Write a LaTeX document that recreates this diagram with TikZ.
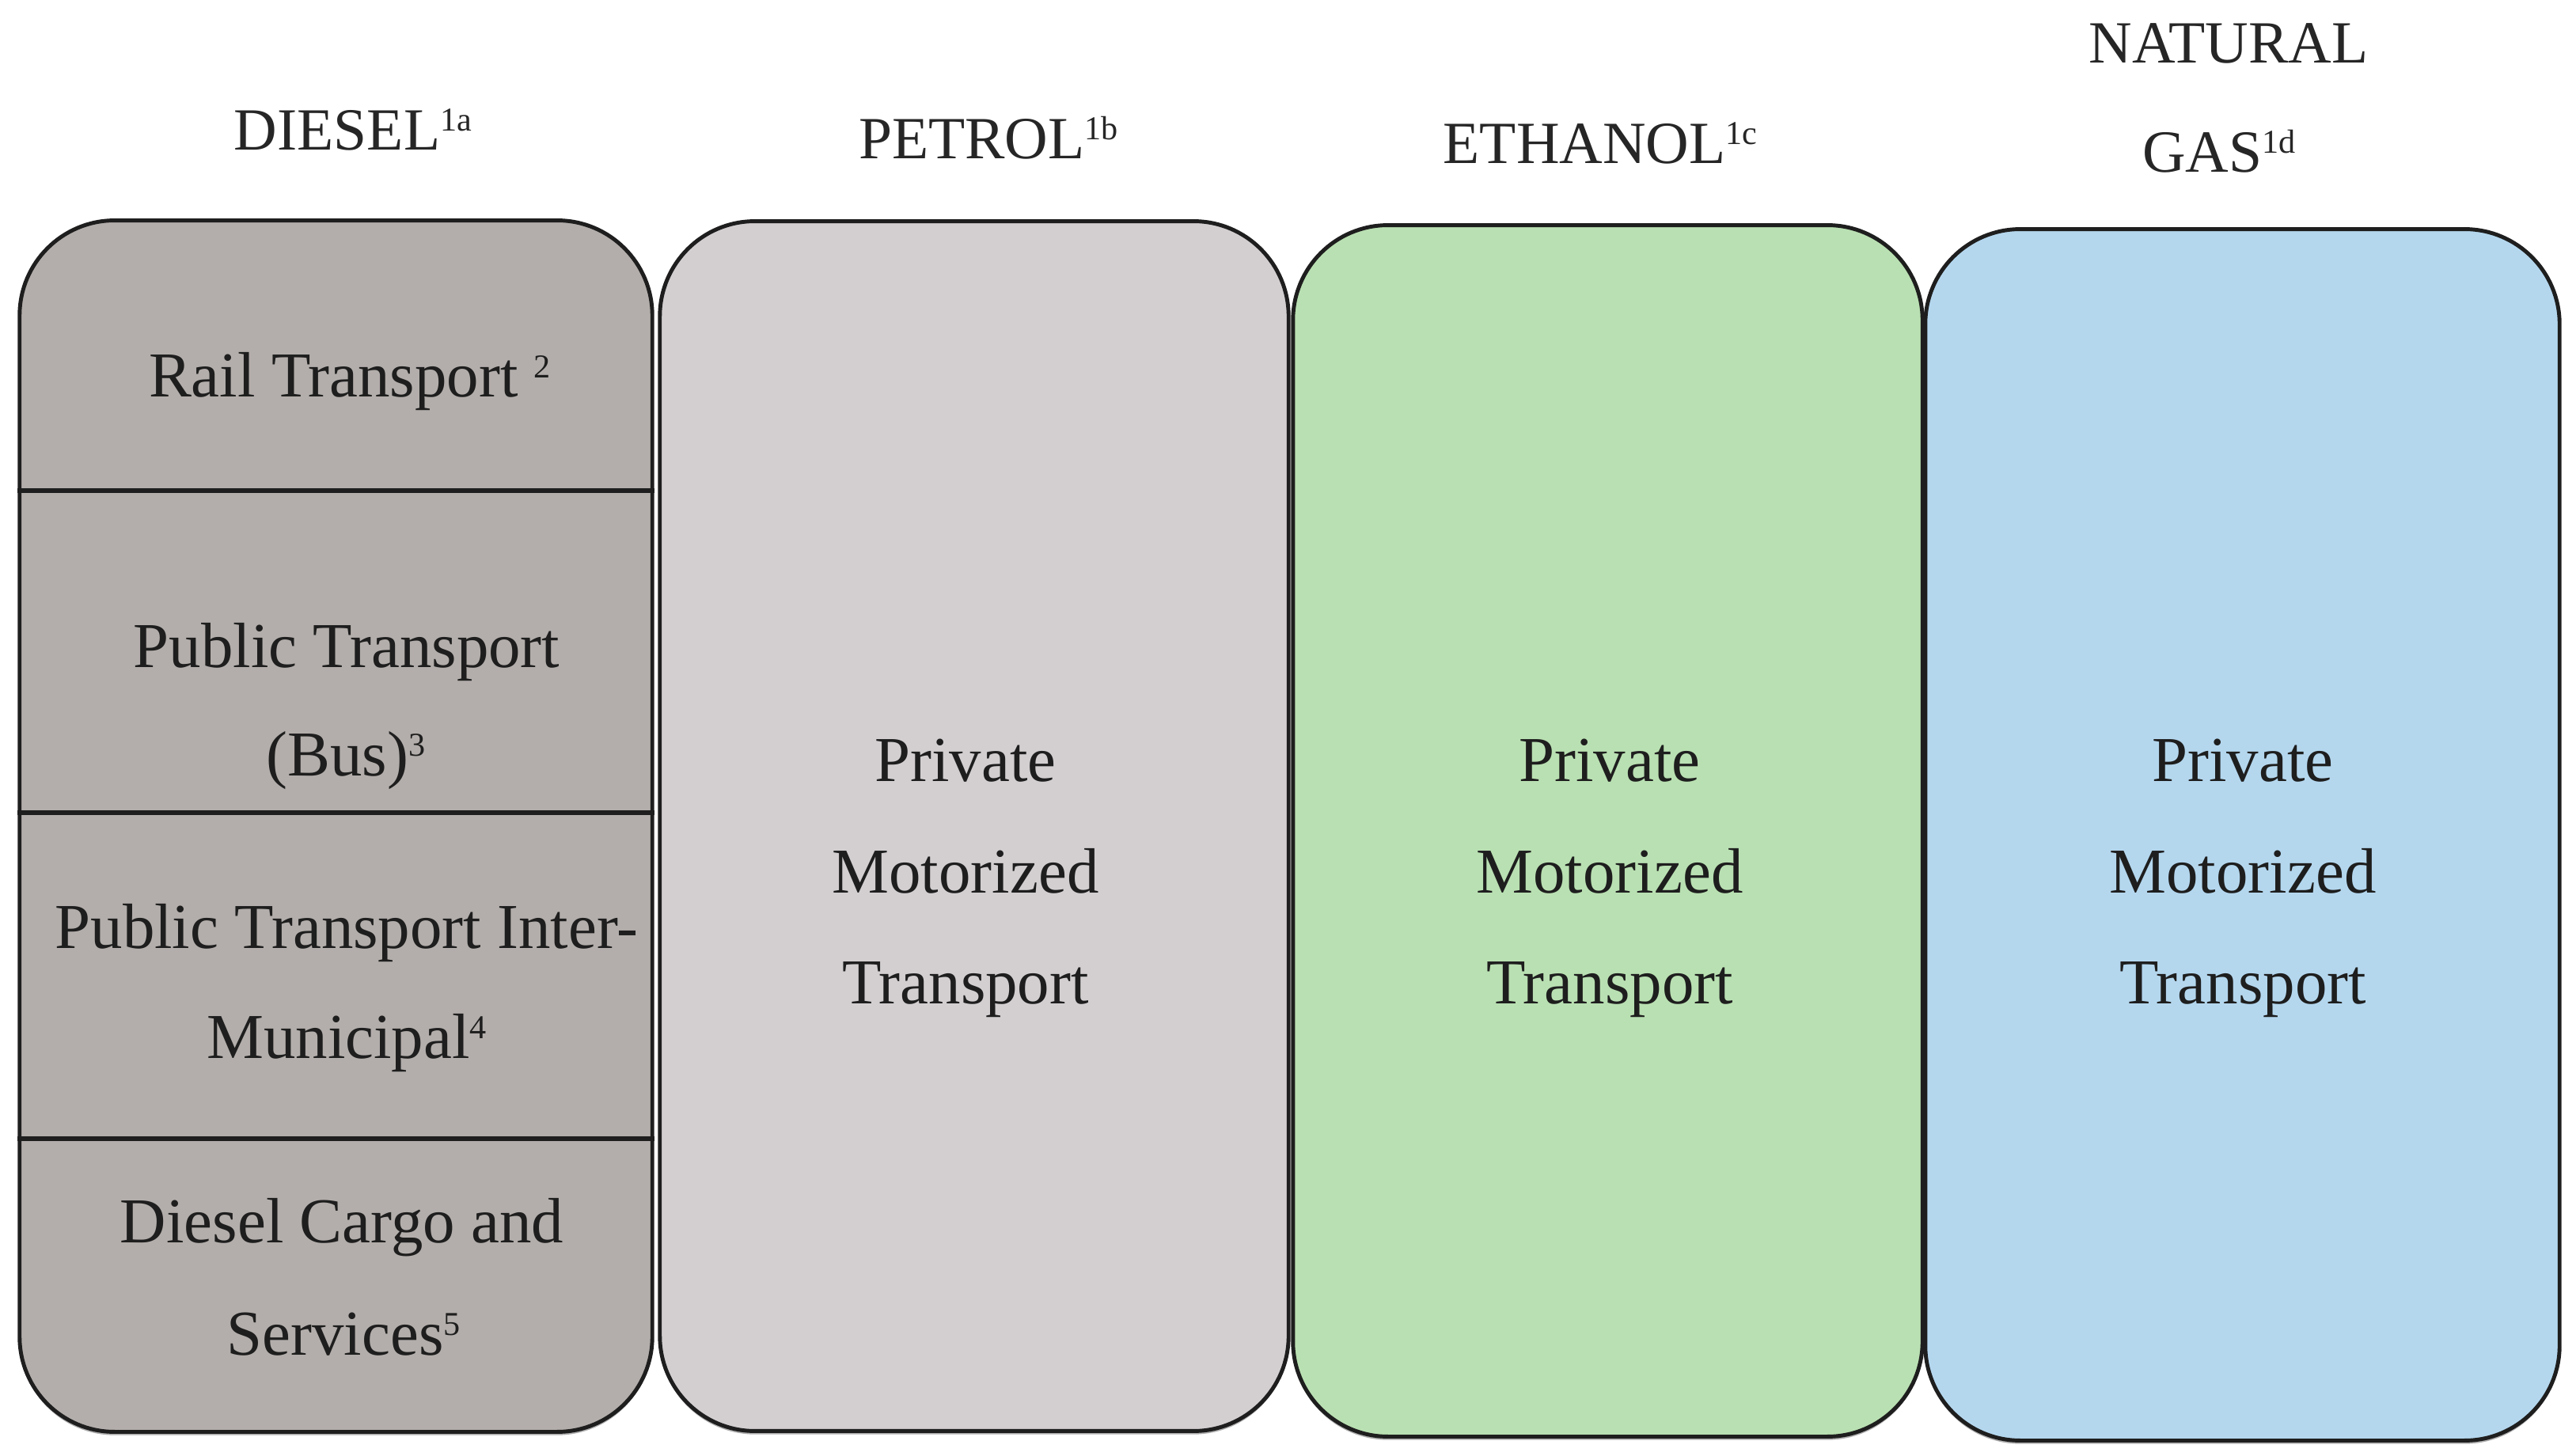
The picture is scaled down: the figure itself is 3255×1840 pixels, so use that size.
\documentclass[tikz,border=0pt]{standalone}
\usepackage{fontspec}
\setmainfont{Liberation Serif}
\usetikzlibrary{shadows}
\definecolor{dieselc}{RGB}{179,174,171}
\definecolor{petrolc}{RGB}{211,207,208}
\definecolor{ethanolc}{RGB}{185,224,178}
\definecolor{gasc}{RGB}{180,215,238}
\definecolor{inkc}{RGB}{30,30,30}
\newcommand\supmark[1]{\raisebox{7pt}{\fontsize{12}{12}\selectfont #1}}
\tikzset{
  fuelbox/.style={draw=inkc, line width=1.4pt, rounded corners=1.2cm, inner sep=0pt,
    drop shadow={shadow xshift=0pt, shadow yshift=-1.2pt, opacity=0.45, fill=black!70}},
  divline/.style={draw=inkc, line width=1.5pt},
  txt/.style={anchor=base, inner sep=0pt, text=inkc, font=\fontsize{23}{40}\selectfont},
  head/.style={txt, text=black!85, font=\fontsize{21.5}{40}\selectfont}
}
\begin{document}
\begin{tikzpicture}[x=0.01cm, y=-0.01cm]
\useasboundingbox (0,0) rectangle (3255,1840);
% boxes
\node[fuelbox, fill=dieselc, minimum width=7.99cm, minimum height=15.30cm] (diesel) at (424.5,1044) {};
\node[fuelbox, fill=petrolc, minimum width=7.94cm, minimum height=15.28cm] (petrol) at (1231,1044) {};
\node[fuelbox, fill=ethanolc, minimum width=7.95cm, minimum height=15.30cm] (ethanol) at (2031.5,1050) {};
\node[fuelbox, fill=gasc, minimum width=8.01cm, minimum height=15.30cm] (gas) at (2833.5,1055) {};
% dividers in diesel box
\draw[divline] (diesel.west |- 0,620) -- (diesel.east |- 0,620);
\draw[divline] (diesel.west |- 0,1027) -- (diesel.east |- 0,1027);
\draw[divline] (diesel.west |- 0,1439) -- (diesel.east |- 0,1439);
% headers
\node[head] (hdiesel) at (446,190) {DIESEL\supmark{1a}};
\node[head] (hpetrol) at (1249,201) {PETROL\supmark{1b}};
\node[head] (hethanol) at (2022,207) {ETHANOL\supmark{1c}};
\node[head] (hgas1) at (2816,80) {NATURAL};
\node[head] (hgas2) at (2804,218) {GAS\supmark{1d}};
% diesel contents
\node[txt] (rail) at (442,502) {Rail Transport \supmark{2}};
\node[txt] (bus1) at (438,843) {Public Transport};
\node[txt] (bus2) at (437,980) {(Bus)\supmark{3}};
\node[txt] (inter1) at (438,1198) {Public Transport Inter-};
\node[txt] (inter2) at (438,1337) {Municipal\supmark{4}};
\node[txt] (cargo1) at (432,1570) {Diesel Cargo and};
\node[txt] (cargo2) at (434,1712) {Services\supmark{5}};
% private motorized transport
\foreach \nm/\cx in {p/1220, e/2034, g/2834}{
  \node[txt] (\nm1) at (\cx,987) {Private};
  \node[txt] (\nm2) at (\cx,1128) {Motorized};
  \node[txt] (\nm3) at (\cx,1268) {Transport};
}
\end{tikzpicture}
\end{document}
